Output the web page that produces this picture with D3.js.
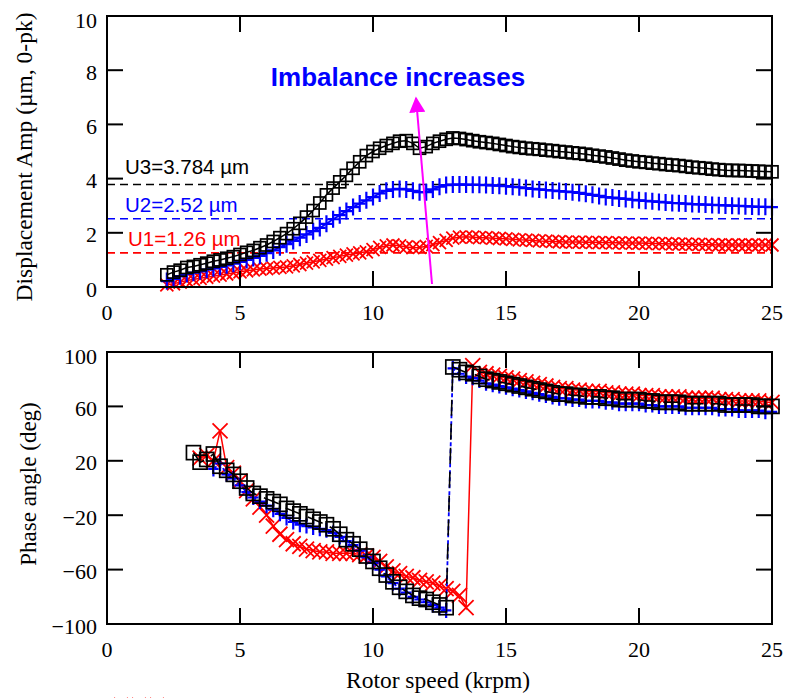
<!DOCTYPE html>
<html>
<head>
<meta charset="utf-8">
<script src="https://cdn.jsdelivr.net/npm/d3@7"></script>
<style>
  body { margin: 0; background: #fff; }
  svg { display: block; }
</style>
</head>
<body>
<div id="chart"></div>
<script>
// Rotor speed grid (krpm) for the amplitude plot
const ampSpeed = [2.25,2.5,2.75,3,3.25,3.5,3.75,4,4.25,4.5,4.75,5,5.25,5.5,5.75,6,6.25,6.5,6.75,7,7.25,7.5,7.75,8,8.25,8.5,8.75,9,9.25,9.5,9.75,10,10.25,10.5,10.75,11,11.25,11.5,11.75,12,12.25,12.5,12.75,13,13.25,13.5,13.75,14,14.25,14.5,14.75,15,15.25,15.5,15.75,16,16.25,16.5,16.75,17,17.25,17.5,17.75,18,18.25,18.5,18.75,19,19.25,19.5,19.75,20,20.25,20.5,20.75,21,21.25,21.5,21.75,22,22.25,22.5,22.75,23,23.25,23.5,23.75,24,24.25,24.5,24.75,25];

// Displacement amplitude (um, 0-pk)
const ampU3 = [0.45,0.55,0.62,0.72,0.76,0.82,0.88,0.95,1.0,1.06,1.12,1.2,1.28,1.35,1.45,1.55,1.68,1.82,1.97,2.15,2.35,2.58,2.82,3.1,3.4,3.65,3.88,4.12,4.38,4.62,4.85,5.0,5.12,5.22,5.3,5.38,5.4,5.3,5.12,5.18,5.3,5.38,5.45,5.5,5.48,5.44,5.4,5.36,5.33,5.3,5.26,5.22,5.18,5.15,5.12,5.1,5.08,5.05,5.03,5.0,4.98,4.95,4.93,4.9,4.86,4.83,4.8,4.76,4.72,4.68,4.65,4.62,4.6,4.57,4.55,4.52,4.5,4.48,4.45,4.42,4.4,4.38,4.35,4.33,4.31,4.3,4.3,4.29,4.28,4.27,4.26,4.25];
const ampU2 = [0.22,0.3,0.4,0.48,0.53,0.58,0.64,0.69,0.74,0.8,0.86,0.93,1.0,1.07,1.15,1.25,1.35,1.47,1.58,1.7,1.82,1.94,2.06,2.18,2.33,2.5,2.65,2.8,2.95,3.08,3.2,3.32,3.45,3.55,3.6,3.62,3.6,3.55,3.5,3.5,3.6,3.7,3.76,3.78,3.78,3.78,3.77,3.77,3.76,3.75,3.74,3.72,3.7,3.68,3.65,3.62,3.6,3.58,3.56,3.54,3.52,3.5,3.47,3.44,3.4,3.36,3.32,3.3,3.27,3.25,3.22,3.2,3.18,3.16,3.14,3.12,3.1,3.09,3.08,3.06,3.05,3.04,3.03,3.02,3.01,3.0,2.99,2.98,2.97,2.96,2.96,2.95];
const ampU1 = [0.08,0.12,0.18,0.24,0.28,0.32,0.36,0.4,0.44,0.48,0.52,0.56,0.6,0.63,0.66,0.68,0.7,0.72,0.74,0.78,0.83,0.88,0.93,0.98,1.03,1.08,1.13,1.18,1.22,1.26,1.3,1.38,1.46,1.52,1.55,1.52,1.48,1.45,1.46,1.5,1.56,1.64,1.72,1.8,1.84,1.85,1.84,1.82,1.82,1.8,1.79,1.78,1.76,1.74,1.73,1.72,1.7,1.69,1.68,1.67,1.66,1.66,1.66,1.65,1.65,1.64,1.64,1.63,1.63,1.62,1.62,1.62,1.61,1.61,1.6,1.6,1.59,1.58,1.58,1.57,1.57,1.56,1.56,1.55,1.55,1.55,1.55,1.55,1.55,1.55,1.55,1.55];

// Rotor speed grid (krpm) for the phase plot
const phaseSpeed = [3.25,3.5,3.75,4,4.25,4.5,4.75,5,5.25,5.5,5.75,6,6.25,6.5,6.75,7,7.25,7.5,7.75,8,8.25,8.5,8.75,9,9.25,9.5,9.75,10,10.25,10.5,10.75,11,11.25,11.5,11.75,12,12.25,12.5,12.75,13,13.25,13.5,13.75,14,14.25,14.5,14.75,15,15.25,15.5,15.75,16,16.25,16.5,16.75,17,17.25,17.5,17.75,18,18.25,18.5,18.75,19,19.25,19.5,19.75,20,20.25,20.5,20.75,21,21.25,21.5,21.75,22,22.25,22.5,22.75,23,23.25,23.5,23.75,24,24.25,24.5,24.75,25];

// Phase angle (deg); null = no measurement
const phaseU3 = [26,19,21,25,16,13,10,5,0,-4,-6,-8,-10,-12,-15,-17,-19,-21,-23,-25,-27,-30,-34,-38,-41,-45,-50,-54,-59,-64,-69,-73,-76,-79,-81,-82,-84,-86,-88,89,87,85,84,82,80,79,78,77,76,75,74,73,72,71,70,69,69,68,68,67,67,67,66,66,65,65,65,65,64,64,63,63,63,63,62,62,62,62,62,62,61,61,61,61,61,60,60,60];
const phaseU2 = [null,null,null,14,18,10,7,2,-3,-7,-10,-13,-16,-19,-22,-25,-27,-28,-29,-30,-31,-33,-36,-39,-42,-46,-51,-55,-60,-65,-70,-74,-77,-80,-82,-84,-86,-88,-90,88,84,82,81,79,77,76,75,74,73,72,71,70,69,68,67,66,66,65,65,64,64,64,63,63,62,62,62,62,61,61,60,60,60,60,59,59,59,59,59,58,58,58,57,57,57,57,56,56];
const phaseU1 = [null,22,24,20,42,15,11,5,-2,-8,-14,-20,-28,-34,-38,-41,-43,-45,-46,-47,-47,-48,-48,-48,-48,-49,-50,-51,-54,-58,-61,-63,-65,-66,-68,-69,-70,-72,-74,-76,-79,-88,90,85,84,83,82,81,80,79,78,77,76,75,74,73,73,72,72,71,71,71,70,70,69,69,69,68,68,68,67,67,67,67,66,66,66,66,66,65,65,65,64,64,64,64,63,63];

// Threshold lines in the amplitude plot
const limitValues = [3.784, 2.52, 1.26];
const limitLabels = ["U3=3.784 \u00b5m", "U2=2.52 \u00b5m", "U1=1.26 \u00b5m"];

const xTicks = [0, 5, 10, 15, 20, 25];
const ampTicks = [0, 2, 4, 6, 8, 10];
const phaseTicks = [-100, -60, -20, 20, 60, 100];

const colors = { U3: "#000000", U2: "#0000ff", U1: "#ff0000" };

const svg = d3.select("#chart")
  .append("svg")
  .attr("width", 788)
  .attr("height", 698);

const serif = "'Liberation Serif', 'Times New Roman', serif";
const sans = "'Liberation Sans', Arial, sans-serif";

const left = 107, right = 772;
const x = d3.scaleLinear().domain([0, 25]).range([left, right]);
const yAmp = d3.scaleLinear().domain([0, 10]).range([287, 16]);
const yPh = d3.scaleLinear().domain([-100, 100]).range([624, 352]);

// marker shapes
function drawMarker(g, kind, px, py, size, color) {
  const h = size / 2;
  if (kind === "square") {
    g.append("rect")
      .attr("x", px - h).attr("y", py - h)
      .attr("width", size).attr("height", size)
      .attr("fill", "none").attr("stroke", color).attr("stroke-width", 1.7);
  } else if (kind === "plus") {
    g.append("path")
      .attr("d", `M${px - h * 0.7},${py}H${px + h * 0.7}M${px},${py - h}V${py + h}`)
      .attr("stroke", color).attr("stroke-width", 2.2).attr("fill", "none");
  } else {
    g.append("path")
      .attr("d", `M${px - h},${py - h}L${px + h},${py + h}M${px - h},${py + h}L${px + h},${py - h}`)
      .attr("stroke", color).attr("stroke-width", 1.8).attr("fill", "none");
  }
}

function drawSeries(yScale, speeds, values, kind, size, color, dash, width) {
  const g = svg.append("g");
  const pts = speeds.map((s, i) => [s, values[i]]).filter(d => d[1] != null);
  const line = d3.line().x(d => x(d[0])).y(d => yScale(d[1]));
  g.append("path")
    .attr("d", line(pts))
    .attr("fill", "none")
    .attr("stroke", color)
    .attr("stroke-width", width)
    .attr("stroke-dasharray", dash);
  pts.forEach(d => drawMarker(g, kind, x(d[0]), yScale(d[1]), size, color));
}

function drawFrame(yScale, yTicks, labelFmt) {
  const top = yScale.range()[1], bottom = yScale.range()[0];
  const g = svg.append("g");
  const tl = 16;
  // x ticks (bottom, pointing up; top, pointing down)
  xTicks.slice(1, -1).forEach(t => {
    g.append("line").attr("x1", x(t)).attr("x2", x(t)).attr("y1", bottom).attr("y2", bottom - tl);
    g.append("line").attr("x1", x(t)).attr("x2", x(t)).attr("y1", top).attr("y2", top + tl);
  });
  yTicks.slice(1, -1).forEach(t => {
    g.append("line").attr("x1", left).attr("x2", left + tl).attr("y1", yScale(t)).attr("y2", yScale(t));
    g.append("line").attr("x1", right).attr("x2", right - tl).attr("y1", yScale(t)).attr("y2", yScale(t));
  });
  g.selectAll("line").attr("stroke", "#000").attr("stroke-width", 2);
  g.append("rect")
    .attr("x", left).attr("y", top)
    .attr("width", right - left).attr("height", bottom - top)
    .attr("fill", "none").attr("stroke", "#000").attr("stroke-width", 2);

  // tick labels
  xTicks.forEach(t => {
    g.append("text")
      .attr("x", x(t)).attr("y", bottom + 25)
      .attr("text-anchor", "middle").attr("dominant-baseline", "central")
      .attr("font-family", serif).attr("font-size", 22)
      .text(t);
  });
  yTicks.forEach((t, i) => {
    g.append("text")
      .attr("x", 97).attr("y", yScale(t) + (i === yTicks.length - 1 ? 4 : 2))
      .attr("text-anchor", "end").attr("dominant-baseline", "central")
      .attr("font-family", serif).attr("font-size", 22)
      .text(labelFmt(t));
  });
}

// ---------- Top panel: displacement amplitude ----------
limitValues.forEach((v, i) => {
  const c = [colors.U3, colors.U2, colors.U1][i];
  svg.append("line")
    .attr("x1", left).attr("x2", right)
    .attr("y1", yAmp(v)).attr("y2", yAmp(v))
    .attr("stroke", c).attr("stroke-width", 1.6)
    .attr("stroke-dasharray", "8,5");
});

drawSeries(yAmp, ampSpeed, ampU1, "x", 13, colors.U1, null, 1.5);
drawSeries(yAmp, ampSpeed, ampU2, "plus", 17, colors.U2, null, 1.8);
drawSeries(yAmp, ampSpeed, ampU3, "square", 12, colors.U3, null, 1.5);

drawFrame(yAmp, ampTicks, d => d);

// threshold labels
const labelY = [166, 204, 238];
limitLabels.forEach((t, i) => {
  svg.append("text")
    .attr("x", i === 2 ? 128 : 125).attr("y", labelY[i])
    .attr("dominant-baseline", "central")
    .attr("font-family", sans).attr("font-size", 20.5)
    .attr("fill", [colors.U3, colors.U2, colors.U1][i])
    .text(t);
});

// annotation
svg.append("text")
  .attr("x", 398).attr("y", 77)
  .attr("text-anchor", "middle").attr("dominant-baseline", "central")
  .attr("font-family", sans).attr("font-size", 26).attr("font-weight", "bold")
  .attr("fill", "#0000ff")
  .text("Imbalance increases");

svg.append("defs").append("marker")
  .attr("id", "arrowHead")
  .attr("viewBox", "0 0 10 10")
  .attr("refX", 9).attr("refY", 5)
  .attr("markerWidth", 8).attr("markerHeight", 8)
  .attr("markerUnits", "strokeWidth")
  .attr("orient", "auto")
  .append("path").attr("d", "M0,0L10,5L0,10Z").attr("fill", "#ff00ff");

svg.append("line")
  .attr("x1", 432).attr("y1", 284)
  .attr("x2", 416).attr("y2", 98)
  .attr("stroke", "#ff00ff").attr("stroke-width", 2)
  .attr("marker-end", "url(#arrowHead)");

svg.append("text")
  .attr("transform", `translate(24,157) rotate(-90)`)
  .attr("text-anchor", "middle").attr("dominant-baseline", "central")
  .attr("font-family", serif).attr("font-size", 23.5)
  .text("Displacement Amp (\u00b5m, 0-pk)");

// ---------- Bottom panel: phase angle ----------
drawSeries(yPh, phaseSpeed, phaseU1, "x", 15, colors.U1, null, 1.5);
drawSeries(yPh, phaseSpeed, phaseU2, "plus", 15, colors.U2, "4,3", 1.8);
drawSeries(yPh, phaseSpeed, phaseU3, "square", 14, colors.U3, "16,8", 1.6);

drawFrame(yPh, phaseTicks, d => d < 0 ? "\u2212" + Math.abs(d) : d);

svg.append("text")
  .attr("transform", `translate(28,484) rotate(-90)`)
  .attr("text-anchor", "middle").attr("dominant-baseline", "central")
  .attr("font-family", serif).attr("font-size", 23)
  .text("Phase angle (deg)");

svg.append("text")
  .attr("x", 438).attr("y", 680)
  .attr("text-anchor", "middle").attr("dominant-baseline", "central")
  .attr("font-family", serif).attr("font-size", 23.5)
  .text("Rotor speed (krpm)");

// legend (cut off at the bottom edge)
const legend = svg.append("g");
[121, 139, 157].forEach(px => drawMarker(legend, "x", px, 705, 14, colors.U1));
</script>
</body>
</html>
